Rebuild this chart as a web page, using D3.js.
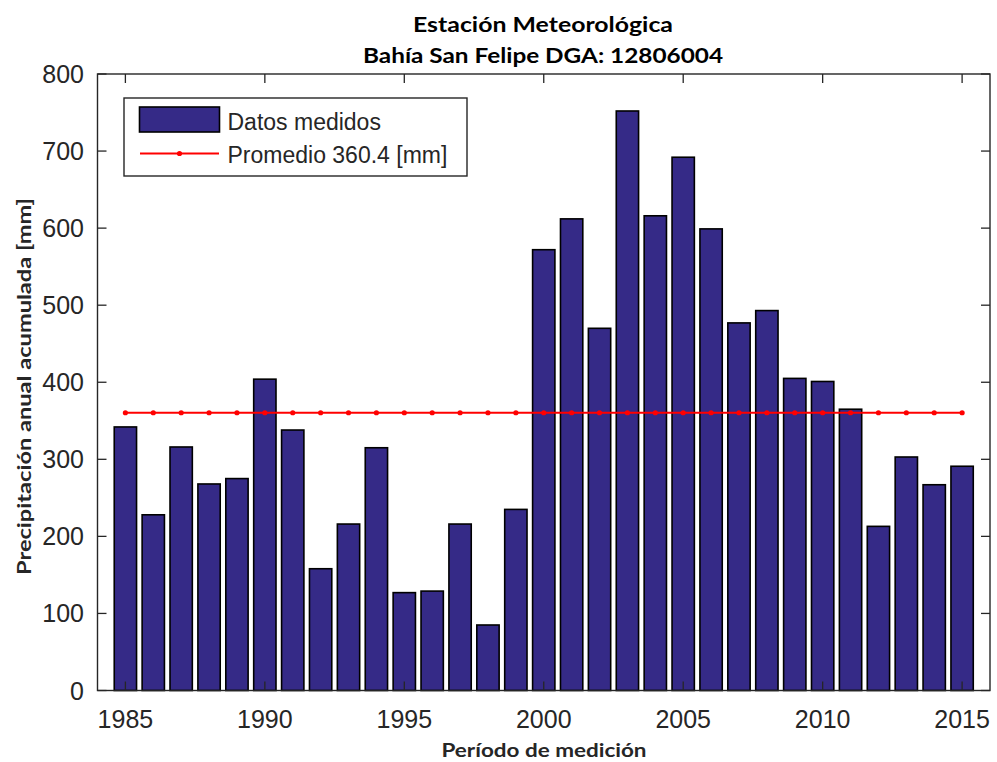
<!DOCTYPE html>
<html><head><meta charset="utf-8">
<script src="https://cdn.jsdelivr.net/npm/d3@7"></script>
<style>body{margin:0;background:#fff}svg{display:block}</style>
</head><body>
<svg id="c" width="997" height="762"></svg>
<script>
const years = d3.range(1985, 2016);
const precip = [342,228,316,268,275,404,338,158,216,315,127,129,216,85,235,572,612,470,752,616,692,599,477,493,405,401,365,213,303,267,291];
const mean = 360.4;
const yTicks = [0,100,200,300,400,500,600,700,800];
const xTicks = [1985,1990,1995,2000,2005,2010,2015];
const titleLines = ["Estación Meteorológica","Bahía San Felipe DGA: 12806004"];
const xLabel = "Período de medición";
const yLabel = "Precipitación anual acumulada [mm]";
const legendLabels = ["Datos medidos","Promedio 360.4 [mm]"];

const svg = d3.select("#c");
const L=97.5, R=990, T=74, B=690.5;
const x = d3.scaleLinear().domain([1984,2016]).range([L,R]);
const y = d3.scaleLinear().domain([0,800]).range([B,T]);
const axisCol = "#262626";
const barW = (x(1)-x(0))*0.8;

// bars
svg.append("g").selectAll("rect").data(years).join("rect")
  .attr("x", (d)=>x(d)-barW/2)
  .attr("width", barW)
  .attr("y", (d,i)=>y(precip[i]))
  .attr("height", (d,i)=>y(0)-y(precip[i]))
  .attr("fill","#352a87").attr("stroke","#000").attr("stroke-width",1.6);

// mean line
const meanData = years.map(d=>[d,mean]);
svg.append("path").datum(meanData)
  .attr("d", d3.line().x(d=>x(d[0])).y(d=>y(d[1])))
  .attr("fill","none").attr("stroke","#ff0000").attr("stroke-width",2);
svg.append("g").selectAll("circle").data(meanData).join("circle")
  .attr("cx", d=>x(d[0])).attr("cy", d=>y(d[1])).attr("r",2.6).attr("fill","#ff0000");

// frame
svg.append("rect").attr("x",L).attr("y",T).attr("width",R-L).attr("height",B-T)
  .attr("fill","none").attr("stroke",axisCol).attr("stroke-width",1.4);

const tl = 9;
const tg = svg.append("g").attr("stroke",axisCol).attr("stroke-width",1.3);
yTicks.forEach(v=>{
  tg.append("line").attr("x1",L).attr("x2",L+tl).attr("y1",y(v)).attr("y2",y(v));
  tg.append("line").attr("x1",R).attr("x2",R-tl).attr("y1",y(v)).attr("y2",y(v));
});
xTicks.forEach(v=>{
  tg.append("line").attr("x1",x(v)).attr("x2",x(v)).attr("y1",B).attr("y2",B-tl);
  tg.append("line").attr("x1",x(v)).attr("x2",x(v)).attr("y1",T).attr("y2",T+tl);
});

const tickFont = "'Liberation Sans', Arial, sans-serif";
svg.append("g").selectAll("text").data(yTicks).join("text")
  .attr("x",84).attr("y",d=>y(d)+9).attr("text-anchor","end")
  .attr("font-family",tickFont).attr("font-size",25).attr("fill",axisCol)
  .text(d=>d);
svg.append("g").selectAll("text").data(xTicks).join("text")
  .attr("x",d=>x(d)).attr("y",728).attr("text-anchor","middle")
  .attr("font-family",tickFont).attr("font-size",25).attr("fill",axisCol)
  .text(d=>d);

const boldFont = "Lato, 'Open Sans', sans-serif";
// title
const tBase=[31.5,63.3], tLen=[260,360];
titleLines.forEach((t,i)=>{
  svg.append("text").attr("x",543).attr("y",tBase[i]).attr("text-anchor","middle")
    .attr("font-family",boldFont).attr("font-weight","bold").attr("font-size",21.5)
    .attr("fill","#000").attr("textLength",tLen[i]).attr("lengthAdjust","spacingAndGlyphs")
    .text(t);
});
svg.append("text").attr("x",544).attr("y",756.5).attr("text-anchor","middle")
  .attr("font-family",boldFont).attr("font-weight","bold").attr("font-size",18.5)
  .attr("fill",axisCol).attr("textLength",205).attr("lengthAdjust","spacingAndGlyphs")
  .text(xLabel);
svg.append("text").attr("transform","translate(30.5,386.5) rotate(-90)").attr("text-anchor","middle")
  .attr("font-family",boldFont).attr("font-weight","bold").attr("font-size",18.5)
  .attr("fill",axisCol).attr("textLength",377).attr("lengthAdjust","spacingAndGlyphs")
  .text(yLabel);

// legend
const lg = svg.append("g");
lg.append("rect").attr("x",124).attr("y",98).attr("width",343).attr("height",78)
  .attr("fill","#fff").attr("stroke",axisCol).attr("stroke-width",1.4);
lg.append("rect").attr("x",139.5).attr("y",107).attr("width",80).attr("height",25)
  .attr("fill","#352a87").attr("stroke","#000").attr("stroke-width",1.6);
lg.append("line").attr("x1",140).attr("x2",219).attr("y1",153.5).attr("y2",153.5)
  .attr("stroke","#ff0000").attr("stroke-width",2);
lg.append("circle").attr("cx",179.5).attr("cy",153.5).attr("r",2.6).attr("fill","#ff0000");
[130,162.7].forEach((b,i)=>{
  lg.append("text").attr("x",227.5).attr("y",b)
    .attr("font-family",tickFont).attr("font-size",23).attr("fill",axisCol)
    .text(legendLabels[i]);
});
</script>
</body></html>
